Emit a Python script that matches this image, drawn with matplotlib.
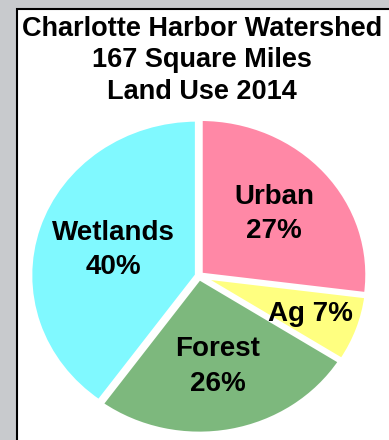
import matplotlib.pyplot as plt
from matplotlib.patches import Rectangle
import numpy as np

# Land use shares (percent), clockwise from 12 o'clock
categories = ['Urban', 'Ag', 'Forest', 'Wetlands']
shares = [27, 7, 26, 40]
colors = ['#ff88a6', '#ffff80', '#7db87d', '#80f9ff']
title_lines = ['Charlotte Harbor Watershed', '167 Square Miles', 'Land Use 2014']

plt.rcParams['font.family'] = ['Liberation Sans', 'DejaVu Sans']

fig = plt.figure(figsize=(3.89, 4.40), dpi=100)
fig.patch.set_facecolor('#c8cacd')

# white slide panel with black border (behind the axes)
fig.patches.append(Rectangle((17 / 389, -0.1), 1.1, (440 - 9) / 440 + 0.1,
                             transform=fig.transFigure, facecolor='white',
                             edgecolor='black', linewidth=1.5, zorder=-5))

fig.text(202 / 389, 1 - 16 / 440, '\n'.join(title_lines), ha='center', va='top',
         fontsize=19.5, fontweight='bold', linespacing=1.27)

# pie axes (slightly stretched horizontally, like the source)
cx, cy, rx, ry = 199, 276, 167, 156
ax = fig.add_axes([(cx - rx) / 389, (440 - cy - ry) / 440, 2 * rx / 389, 2 * ry / 440])
ax.patch.set_alpha(0)
wedges, _ = ax.pie(shares, colors=colors, startangle=90, counterclock=False,
                   explode=[0.012] * 4,
                   wedgeprops=dict(edgecolor='white', linewidth=3.2))
ax.set_aspect('auto')
ax.set_xlim(-1.0, 1.0)
ax.set_ylim(-1.0, 1.0)
for w in wedges:
    w.set_clip_on(False)

# labels at each wedge's mid-angle
label_dist = [0.60, 0.71, 0.59, 0.54]
for w, name, pct, d in zip(wedges, categories, shares, label_dist):
    ang = np.deg2rad((w.theta1 + w.theta2) / 2)
    sep = ' ' if pct < 10 else '\n'
    ax.text(d * np.cos(ang), d * np.sin(ang), f'{name}{sep}{pct}%',
            ha='center', va='center', fontsize=20, fontweight='bold',
            linespacing=1.42)

fig.savefig('out.png', dpi=100, facecolor=fig.get_facecolor())
